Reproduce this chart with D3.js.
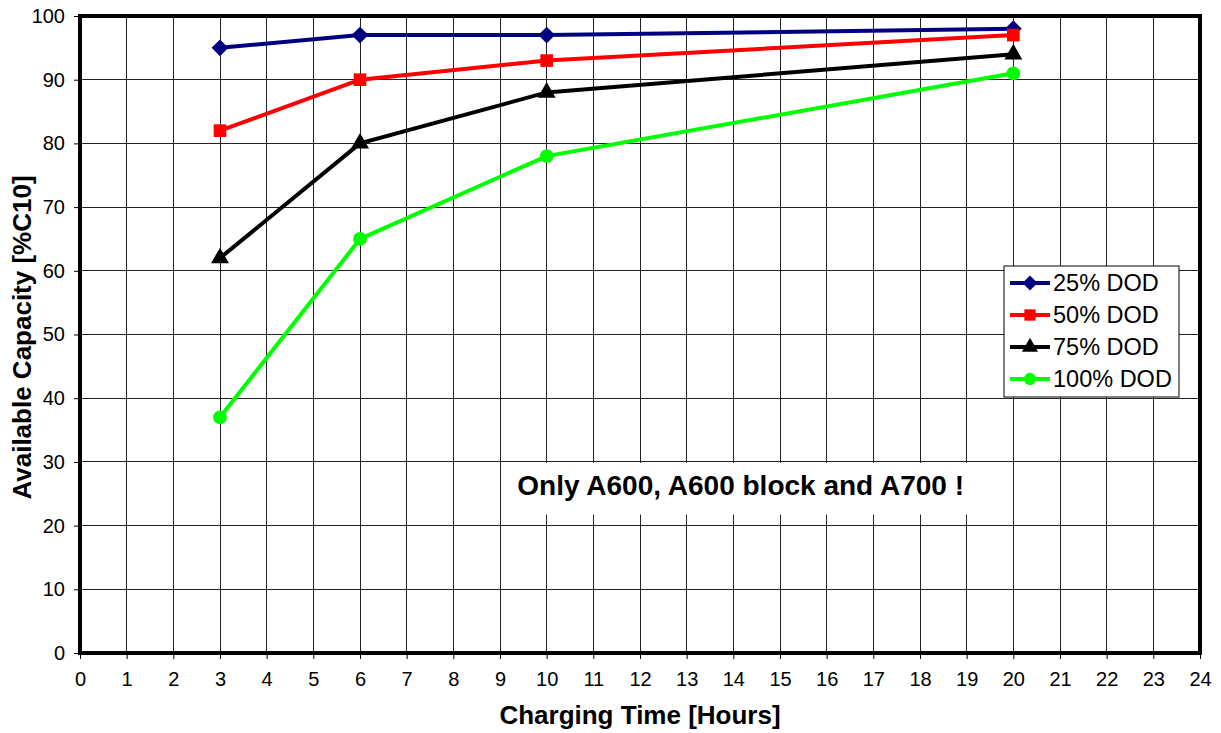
<!DOCTYPE html>
<html>
<head>
<meta charset="utf-8">
<script src="https://d3js.org/d3.v7.min.js"></script>
<style>
  body { margin: 0; background: #fff; }
  svg { font-family: "Liberation Sans", Arial, Helvetica, sans-serif; }
</style>
</head>
<body>
<div id="chart"></div>
<script>
// charging time in hours
const hours = [3, 6, 10, 20];
const seriesNames = ["25% DOD", "50% DOD", "75% DOD", "100% DOD"];
const dod25 = [95, 97, 97, 98];
const dod50 = [82, 90, 93, 97];
const dod75 = [62, 80, 88, 94];
const dod100 = [37, 65, 78, 91];
const xTicks = d3.range(0, 25, 1);
const yTicks = d3.range(0, 101, 10);

// rotated square = Excel-like diamond
const diamond = {
  draw(ctx, size) {
    const r = Math.sqrt(size / 2);
    ctx.moveTo(0, -r); ctx.lineTo(r, 0); ctx.lineTo(0, r); ctx.lineTo(-r, 0); ctx.closePath();
  }
};

const series = [
  { name: seriesNames[0], values: dod25, color: "#000080", symbol: diamond, size: 140 },
  { name: seriesNames[1], values: dod50, color: "#ff0000", symbol: d3.symbolSquare, size: 160 },
  { name: seriesNames[2], values: dod75, color: "#000000", symbol: d3.symbolTriangle, size: 140 },
  { name: seriesNames[3], values: dod100, color: "#00ff00", symbol: d3.symbolCircle, size: 150 }
];

const W = 1221, H = 733;
const margin = { top: 16, right: 21, bottom: 80, left: 80 };

const svg = d3.select("#chart").append("svg")
  .attr("width", W).attr("height", H);

const x = d3.scaleLinear().domain([0, 24]).range([margin.left, W - margin.right]);
const y = d3.scaleLinear().domain([0, 100]).range([H - margin.bottom, margin.top]);

// grid
svg.append("g").selectAll("line").data(xTicks).join("line")
  .attr("x1", d => x(d)).attr("x2", d => x(d))
  .attr("y1", y(0)).attr("y2", y(100))
  .attr("stroke", "#222").attr("stroke-width", 1).attr("shape-rendering", "crispEdges");
svg.append("g").selectAll("line").data(yTicks).join("line")
  .attr("x1", x(0)).attr("x2", x(24))
  .attr("y1", d => y(d)).attr("y2", d => y(d))
  .attr("stroke", "#222").attr("stroke-width", 1).attr("shape-rendering", "crispEdges");

// annotation box
svg.append("rect")
  .attr("x", x(9) + 1).attr("y", y(30) + 1)
  .attr("width", x(20) - x(9) - 2).attr("height", (y(20) - y(30)) - 12)
  .attr("fill", "#fff");
svg.append("text")
  .attr("x", (x(9) + x(20)) / 2 - 16).attr("y", y(30) + 33)
  .attr("text-anchor", "middle")
  .attr("font-size", "28px").attr("font-weight", "bold")
  .text("Only A600, A600 block and A700 !");

// axes
const xAxis = svg.append("g")
  .attr("transform", `translate(0,${y(0)})`)
  .call(d3.axisBottom(x).tickValues(xTicks).tickSize(6).tickPadding(13).tickFormat(d3.format("d")));
const yAxis = svg.append("g")
  .attr("transform", `translate(${x(0)},0)`)
  .call(d3.axisLeft(y).tickValues(yTicks).tickSize(6).tickPadding(9).tickFormat(d3.format("d")));
[xAxis, yAxis].forEach(a => {
  a.select(".domain").remove();
  a.selectAll("text").attr("font-size", "20px").attr("fill", "#000")
    .attr("font-family", "Liberation Sans, Arial, sans-serif");
  a.selectAll(".tick line").attr("stroke", "#000");
});

// frame
svg.append("rect")
  .attr("x", x(0)).attr("y", y(100))
  .attr("width", x(24) - x(0)).attr("height", y(0) - y(100))
  .attr("fill", "none").attr("stroke", "#000").attr("stroke-width", 4);

// series
const line = d3.line().x((d, i) => x(hours[i])).y(d => y(d));
series.forEach(s => {
  svg.append("path")
    .attr("d", line(s.values))
    .attr("fill", "none").attr("stroke", s.color).attr("stroke-width", 4);
  svg.append("g").selectAll("path").data(s.values).join("path")
    .attr("transform", (d, i) => `translate(${x(hours[i])},${y(d)})`)
    .attr("d", d3.symbol().type(s.symbol).size(s.size))
    .attr("fill", s.color);
});

// axis titles
svg.append("text")
  .attr("x", (x(0) + x(24)) / 2).attr("y", 724)
  .attr("text-anchor", "middle")
  .attr("font-size", "26px").attr("font-weight", "bold")
  .text("Charging Time [Hours]");
svg.append("text")
  .attr("transform", `translate(31,${(y(0) + y(100)) / 2 + 3}) rotate(-90)`)
  .attr("text-anchor", "middle")
  .attr("font-size", "26px").attr("font-weight", "bold")
  .text("Available Capacity [%C10]");

// legend
const lg = svg.append("g").attr("transform", "translate(1004,266)");
lg.append("rect").attr("width", 175).attr("height", 131)
  .attr("fill", "#fff").attr("stroke", "#000").attr("stroke-width", 1);
series.forEach((s, i) => {
  const cy = 17 + i * 32;
  lg.append("line").attr("x1", 6).attr("x2", 46).attr("y1", cy).attr("y2", cy)
    .attr("stroke", s.color).attr("stroke-width", 4);
  lg.append("path").attr("transform", `translate(26,${cy})`)
    .attr("d", d3.symbol().type(s.symbol).size(s.size * 0.8)).attr("fill", s.color);
  lg.append("text").attr("x", 49).attr("y", cy + 8)
    .attr("font-size", "23.5px").text(s.name);
});
</script>
</body>
</html>
